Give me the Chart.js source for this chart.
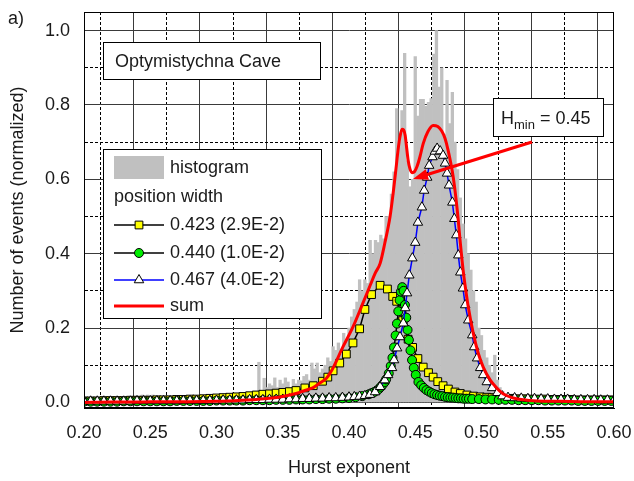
<!DOCTYPE html>
<html>
<head>
<meta charset="utf-8">
<script src="https://cdn.jsdelivr.net/npm/chart.js@4.4.1/dist/chart.umd.min.js"></script>
<style>
  html, body { margin: 0; padding: 0; background: #fff; }
</style>
</head>
<body>
<canvas id="c" width="634" height="481"></canvas>
<script>
// axis ticks
const xTicks = [0.200,0.225,0.250,0.275,0.300,0.325,0.350,0.375,0.400,0.425,0.450,0.475,0.500,0.525,0.550,0.575,0.600];
const yTicks = [0.0,0.1,0.2,0.3,0.4,0.5,0.6,0.7,0.8,0.9,1.0];

// histogram, bins of 0.002 starting at 0.200
const histStart = 0.200;
const histStep = 0.002;
const histValues = [
  0.015,0.008,0.005,0.004,0.006,0.005,0.004,0.006,0.005,0.004,
  0.005,0.004,0.006,0.005,0.004,0.005,0.006,0.004,0.005,0.006,
  0.008,0.012,0.020,0.018,0.020,0.015,0.020,0.010,0.012,0.008,
  0.006,0.008,0.005,0.012,0.006,0.005,0.008,0.006,0.010,0.005,
  0.008,0.012,0.006,0.010,0.020,0.008,0.012,0.015,0.010,0.012,
  0.010,0.008,0.012,0.015,0.010,0.020,0.012,0.015,0.010,0.018,
  0.015,0.012,0.020,0.018,0.025,0.030,0.108,0.030,0.065,0.040,
  0.050,0.045,0.066,0.040,0.060,0.050,0.066,0.055,0.040,0.062,
  0.050,0.060,0.058,0.070,0.075,0.060,0.106,0.090,0.106,0.080,
  0.090,0.100,0.120,0.110,0.150,0.140,0.160,0.130,0.186,0.170,
  0.200,0.230,0.250,0.270,0.330,0.300,0.330,0.320,0.436,0.400,
  0.436,0.430,0.450,0.440,0.500,0.500,0.560,0.620,0.790,0.700,
  0.785,0.939,0.650,0.580,0.600,0.930,0.770,0.815,0.815,0.796,
  0.807,0.817,0.937,1.000,0.848,0.900,0.720,0.866,0.750,0.834,
  0.700,0.626,0.550,0.480,0.440,0.400,0.356,0.300,0.270,0.200,
  0.180,0.140,0.120,0.100,0.080,0.127,0.060,0.040,0.030,0.020,
  0.020,0.015,0.012,0.010,0.015,0.010,0.008,0.012,0.010,0.008,
  0.008,0.010,0.006,0.008,0.005,0.006,0.004,0.005,0.004,0.003,
  0.002
];

// component 1: position 0.423, width 2.9E-2
const yelX = [0.200,0.205,0.210,0.215,0.220,0.225,0.230,0.235,0.240,0.245,0.250,0.255,0.260,0.265,0.270,0.275,0.280,0.285,0.290,0.295,0.300,0.305,0.310,0.315,0.320,0.325,0.330,0.335,0.340,0.345,0.350,0.355,0.360,
  0.3667,0.373,0.380,0.384,0.388,0.393,0.398,0.403,0.408,0.412,0.417,0.4235,0.429,0.433,0.436,0.4405,0.4446,0.448,0.452,0.456,0.460,0.4635,0.467,0.471,0.475,0.480,0.484,0.489,0.494,0.499,0.504,0.508,
  0.513,0.518,0.523,0.528,0.533,0.538,0.543,0.548,0.553,0.558,0.563,0.568,0.573,0.578,0.583,0.588,0.593,0.598];
const yelY = [0.004,0.004,0.004,0.005,0.005,0.005,0.005,0.006,0.006,0.006,0.006,0.007,0.007,0.007,0.008,0.008,0.009,0.009,0.010,0.011,0.012,0.013,0.014,0.015,0.016,0.018,0.020,0.022,0.023,0.025,0.027,0.029,0.032,
  0.039,0.045,0.057,0.068,0.085,0.106,0.130,0.160,0.198,0.250,0.290,0.315,0.305,0.285,0.272,0.220,0.170,0.148,0.118,0.095,0.080,0.068,0.056,0.045,0.036,0.028,0.024,0.020,0.017,0.015,0.014,0.013,
  0.012,0.011,0.011,0.010,0.010,0.009,0.009,0.009,0.008,0.008,0.008,0.008,0.007,0.007,0.007,0.007,0.007,0.007];

// component 2: position 0.440, width 1.0E-2
const grnX = [0.200,0.205,0.210,0.215,0.220,0.225,0.230,0.235,0.240,0.245,0.250,0.255,0.260,0.265,0.270,0.275,0.280,0.285,0.290,0.295,0.300,0.305,0.310,0.315,0.320,0.325,0.330,0.335,0.340,0.345,0.350,0.355,0.360,0.365,0.370,0.375,0.380,0.385,0.390,0.395,
  0.400,0.405,0.410,0.415,0.417,0.419,0.421,0.4225,0.424,0.4255,0.427,0.428,0.430,0.4315,0.4328,0.434,0.4352,0.4362,0.4372,0.4382,0.4392,0.4402,0.4412,0.4422,0.4432,0.4442,0.4452,0.4464,0.4476,0.4489,0.4504,0.4524,
  0.4545,0.4565,0.4585,0.4605,0.4625,0.4645,0.4665,0.4685,0.4705,0.4725,0.4745,0.4765,0.4785,0.4805,0.4825,0.4845,0.4865,0.4885,0.4905,
  0.493,0.498,0.503,0.508,0.513,0.518,0.523,0.528,0.533,0.538,0.543,0.548,0.553,0.558,0.563,0.568,0.573,0.578,0.583,0.588,0.593,0.598];
const grnY = [0.002,0.002,0.002,0.002,0.002,0.002,0.003,0.003,0.003,0.003,0.003,0.003,0.003,0.003,0.004,0.004,0.004,0.004,0.004,0.004,0.005,0.005,0.005,0.005,0.005,0.006,0.006,0.006,0.006,0.007,0.007,0.007,0.008,0.008,0.008,0.009,0.009,0.010,0.010,0.011,
  0.012,0.014,0.017,0.022,0.025,0.028,0.032,0.036,0.042,0.048,0.055,0.062,0.078,0.098,0.120,0.148,0.180,0.212,0.245,0.275,0.298,0.310,0.300,0.262,0.228,0.195,0.168,0.140,0.114,0.093,0.074,0.055,
  0.046,0.039,0.033,0.029,0.025,0.022,0.020,0.018,0.017,0.015,0.014,0.013,0.013,0.012,0.011,0.011,0.010,0.010,0.010,
  0.009,0.009,0.008,0.008,0.007,0.007,0.007,0.006,0.006,0.006,0.006,0.005,0.005,0.005,0.005,0.005,0.004,0.004,0.004,0.004,0.004,0.004];

// component 3: position 0.467, width 4.0E-2
const triX = [0.200,0.205,0.210,0.215,0.220,0.225,0.230,0.235,0.240,0.245,0.250,0.255,0.260,0.265,0.270,0.275,0.280,0.285,0.290,0.295,0.300,0.305,0.310,0.315,0.320,0.325,0.330,0.335,0.340,0.345,0.350,0.355,0.360,0.365,0.370,0.375,0.380,0.385,0.390,0.395,
  0.400,0.404,0.408,0.412,0.4158,0.4197,0.4235,0.427,0.4295,0.4325,0.434,0.4363,0.4385,0.441,0.4424,0.4438,0.4455,0.4478,0.450,0.452,0.455,0.4567,0.459,0.4605,0.463,0.4648,0.4665,0.4688,0.471,0.4725,0.474,0.4755,0.478,0.4795,0.481,0.4825,0.484,0.486,0.4877,0.490,0.493,0.4945,0.4967,0.499,0.5013,0.504,0.508,0.512,0.5157,0.520,
  0.525,0.530,0.535,0.540,0.545,0.550,0.555,0.560,0.565,0.570,0.575,0.580,0.585,0.590,0.595,0.600];
const triY = [0.003,0.003,0.003,0.003,0.003,0.003,0.003,0.003,0.004,0.004,0.004,0.004,0.004,0.004,0.004,0.005,0.005,0.005,0.005,0.005,0.005,0.006,0.006,0.006,0.006,0.007,0.007,0.007,0.008,0.008,0.008,0.009,0.009,0.010,0.010,0.011,0.011,0.012,0.012,0.013,
  0.014,0.015,0.016,0.018,0.021,0.028,0.042,0.060,0.074,0.093,0.114,0.146,0.176,0.213,0.254,0.294,0.342,0.388,0.430,0.484,0.525,0.570,0.605,0.637,0.660,0.675,0.683,0.676,0.664,0.643,0.616,0.584,0.538,0.494,0.450,0.396,0.350,0.307,0.262,0.221,0.181,0.149,0.119,0.093,0.074,0.055,0.039,0.026,0.017,0.013,
  0.012,0.011,0.010,0.010,0.009,0.009,0.008,0.008,0.008,0.007,0.007,0.007,0.007,0.006,0.006,0.006];

// sum of the three components
const sumX = [0.200,0.220,0.240,0.260,0.280,0.300,0.320,0.330,0.340,0.350,0.360,0.365,0.370,0.373,0.378,0.383,0.3856,0.388,0.3955,0.403,
  0.4105,0.416,0.4197,0.4235,0.427,0.431,0.4333,0.4355,0.437,0.4385,0.440,0.4412,0.4424,0.4435,0.4446,0.446,0.4476,0.4495,0.4514,0.4535,
  0.456,0.4595,0.4635,0.467,0.470,0.4725,0.4748,0.4787,0.4817,0.484,0.486,0.488,0.490,0.4937,0.4975,0.5013,0.5066,0.510,0.514,0.518,
  0.524,0.530,0.542,0.560,0.580,0.600];
const sumY = [0.000,0.001,0.001,0.002,0.002,0.003,0.006,0.008,0.011,0.016,0.024,0.030,0.036,0.040,0.052,0.065,0.078,0.093,0.150,0.203,
  0.267,0.315,0.347,0.374,0.428,0.500,0.562,0.630,0.678,0.715,0.735,0.733,0.718,0.685,0.652,0.628,0.618,0.621,0.635,0.660,
  0.696,0.728,0.745,0.742,0.730,0.710,0.678,0.605,0.517,0.430,0.360,0.305,0.257,0.187,0.133,0.095,0.060,0.045,0.030,0.020,
  0.012,0.008,0.004,0.003,0.002,0.002];

const legendRows = ['0.423 (2.9E-2)', '0.440 (1.0E-2)', '0.467 (4.0E-2)', 'sum'];

const FONT = "'Liberation Sans', Arial, sans-serif";
const TXT = '#1a1a1a';

const pts = (xs, ys) => xs.map((x, i) => ({x: x, y: ys[i]}));
const histData = histValues.map((v, i) => ({x: histStart + i * histStep, y: v}));

const isMajorX = v => Math.round(v * 1000) % 50 === 0;
const isMajorY = v => Math.round(v * 10) % 2 === 0;

function marker(c, style, x, y, r, fill, stroke) {
  c.save();
  c.fillStyle = fill; c.strokeStyle = stroke; c.lineWidth = 1;
  c.beginPath();
  if (style === 'rect') {
    const s = r * Math.SQRT1_2;
    c.rect(x - s, y - s, 2 * s, 2 * s);
  } else if (style === 'circle') {
    c.arc(x, y, r, 0, Math.PI * 2);
  } else {
    c.moveTo(x, y - r);
    c.lineTo(x + r * Math.sin(2 * Math.PI / 3), y - r * Math.cos(2 * Math.PI / 3));
    c.lineTo(x + r * Math.sin(4 * Math.PI / 3), y - r * Math.cos(4 * Math.PI / 3));
    c.closePath();
  }
  c.fill(); c.stroke();
  c.restore();
}

const overlay = {
  id: 'overlay',
  afterDatasetsDraw(chart) {
    const c = chart.ctx, a = chart.chartArea;
    c.save();
    // frame
    c.strokeStyle = '#000'; c.lineWidth = 1;
    c.strokeRect(a.left + 0.5, a.top + 0.5, a.right - a.left - 1, a.bottom - a.top - 1);

    c.font = '18px ' + FONT;
    c.textBaseline = 'middle';
    c.textAlign = 'left';

    // panel label
    c.fillStyle = TXT;
    c.fillText('a)', 8, 19);

    // title box
    c.fillStyle = '#fff';
    c.fillRect(103.5, 42.5, 217, 37);
    c.strokeRect(103.5, 42.5, 217, 37);
    c.fillStyle = TXT;
    c.fillText('Optymistychna Cave', 115, 62);

    // legend box
    c.fillStyle = '#fff';
    c.fillRect(103.5, 149.5, 218, 169);
    c.strokeRect(103.5, 149.5, 218, 169);
    c.fillStyle = '#c0c0c0';
    c.fillRect(114, 156, 50, 23);
    c.fillStyle = TXT;
    c.fillText('histogram', 170, 168);
    c.fillText('position width', 114, 197);

    const rowY = [225, 253, 280, 306];
    const rowStyle = [
      {line: '#000', lw: 1.5, p: 'rect', r: 5.5, fill: '#ffff00'},
      {line: '#000', lw: 1.5, p: 'circle', r: 4.5, fill: '#00ee00'},
      {line: '#0000ff', lw: 1.5, p: 'triangle', r: 5.5, fill: '#fff'},
      {line: '#ff0000', lw: 3, p: null}
    ];
    legendRows.forEach((t, i) => {
      const s = rowStyle[i], y = rowY[i];
      c.strokeStyle = s.line; c.lineWidth = s.lw;
      c.beginPath(); c.moveTo(114, y); c.lineTo(164, y); c.stroke();
      if (s.p) marker(c, s.p, 139, y, s.r, s.fill, '#000');
      c.fillStyle = TXT;
      c.fillText(t, 170, y);
    });

    // H_min annotation
    c.strokeStyle = '#000'; c.lineWidth = 1;
    c.fillStyle = '#fff';
    c.fillRect(493.5, 98.5, 110, 38);
    c.strokeRect(493.5, 98.5, 110, 38);
    c.fillStyle = TXT;
    c.textBaseline = 'alphabetic';
    let x = 501;
    c.font = '18px ' + FONT;
    c.fillText('H', x, 124); x += c.measureText('H').width;
    c.font = '13px ' + FONT;
    c.fillText('min', x, 129); x += c.measureText('min').width;
    c.font = '18px ' + FONT;
    c.fillText(' = 0.45', x, 124);

    // arrow
    const x0 = 532, y0 = 142, x1 = 413, y1 = 179;
    const ang = Math.atan2(y1 - y0, x1 - x0);
    c.strokeStyle = '#ff0000'; c.fillStyle = '#ff0000'; c.lineWidth = 3;
    c.beginPath();
    c.moveTo(x0, y0);
    c.lineTo(x1 - 10 * Math.cos(ang), y1 - 10 * Math.sin(ang));
    c.stroke();
    c.beginPath();
    c.moveTo(x1, y1);
    c.lineTo(x1 - 15 * Math.cos(ang) + 5.5 * Math.sin(ang), y1 - 15 * Math.sin(ang) - 5.5 * Math.cos(ang));
    c.lineTo(x1 - 15 * Math.cos(ang) - 5.5 * Math.sin(ang), y1 - 15 * Math.sin(ang) + 5.5 * Math.cos(ang));
    c.closePath();
    c.fill();
    c.restore();
  }
};

new Chart(document.getElementById('c'), {
  type: 'bar',
  data: {
    datasets: [
      {
        type: 'line', label: 'sum', data: pts(sumX, sumY), order: 0,
        borderColor: '#ff0000', borderWidth: 3, pointRadius: 0,
        cubicInterpolationMode: 'monotone', fill: false
      },
      {
        type: 'line', label: '0.467 (4.0E-2)', data: pts(triX, triY), order: 1,
        borderColor: '#0000ff', borderWidth: 1.5, tension: 0,
        pointStyle: 'triangle', pointRadius: 5.5, pointBackgroundColor: '#fff',
        pointBorderColor: '#000', pointBorderWidth: 1
      },
      {
        type: 'line', label: '0.440 (1.0E-2)', data: pts(grnX, grnY), order: 2,
        borderColor: '#000', borderWidth: 1.5, tension: 0,
        pointStyle: 'circle', pointRadius: 4.5, pointBackgroundColor: '#00ee00',
        pointBorderColor: '#000', pointBorderWidth: 1
      },
      {
        type: 'line', label: '0.423 (2.9E-2)', data: pts(yelX, yelY), order: 3,
        borderColor: '#000', borderWidth: 1.5, tension: 0,
        pointStyle: 'rect', pointRadius: 5.5, pointBackgroundColor: '#ffff00',
        pointBorderColor: '#000', pointBorderWidth: 1
      },
      {
        type: 'bar', label: 'histogram', data: histData, order: 4,
        backgroundColor: '#c0c0c0', borderWidth: 0,
        barPercentage: 1, categoryPercentage: 1
      }
    ]
  },
  options: {
    responsive: false,
    animation: false,
    devicePixelRatio: 1,
    events: [],
    layout: { padding: { left: 0, top: 12, right: 20, bottom: 0 } },
    plugins: { legend: { display: false }, tooltip: { enabled: false } },
    scales: {
      x: {
        type: 'linear', min: 0.2, max: 0.6, offset: false,
        afterBuildTicks: s => { s.ticks = xTicks.map(v => ({value: v})); },
        afterFit: s => { s.height = 73; s.paddingLeft = 0; s.paddingRight = 0; },
        ticks: {
          autoSkip: false, maxRotation: 0, padding: 14, color: TXT,
          font: { size: 18, family: FONT },
          callback: v => isMajorX(v) ? v.toFixed(2) : ''
        },
        grid: {
          drawTicks: false, lineWidth: 1,
          color: ctx => (ctx.tick && !isMajorX(ctx.tick.value)) ? '#000' : '#3a3a3a'
        },
        border: {
          display: true, color: '#000',
          dash: ctx => (ctx.tick && !isMajorX(ctx.tick.value)) ? [3, 2] : []
        },
        title: {
          display: true, text: 'Hurst exponent', color: TXT,
          font: { size: 18, family: FONT }, padding: { top: 0, bottom: 2 }
        }
      },
      y: {
        type: 'linear', min: -0.015, max: 1.05,
        afterBuildTicks: s => { s.ticks = yTicks.map(v => ({value: v})); },
        afterFit: s => { s.width = 84; s.paddingTop = 0; s.paddingBottom = 0; },
        ticks: {
          autoSkip: false, padding: 14, color: TXT,
          font: { size: 18, family: FONT },
          callback: v => isMajorY(v) ? v.toFixed(1) : ''
        },
        grid: {
          drawTicks: false, lineWidth: 1,
          color: ctx => (ctx.tick && !isMajorY(ctx.tick.value)) ? '#000' : '#3a3a3a'
        },
        border: {
          display: true, color: '#000',
          dash: ctx => (ctx.tick && !isMajorY(ctx.tick.value)) ? [3, 2] : []
        },
        title: {
          display: true, text: 'Number of events (normalized)', color: TXT,
          font: { size: 18, family: FONT }, padding: { top: 7, bottom: 0 }
        }
      }
    }
  },
  plugins: [overlay]
});
</script>
</body>
</html>
